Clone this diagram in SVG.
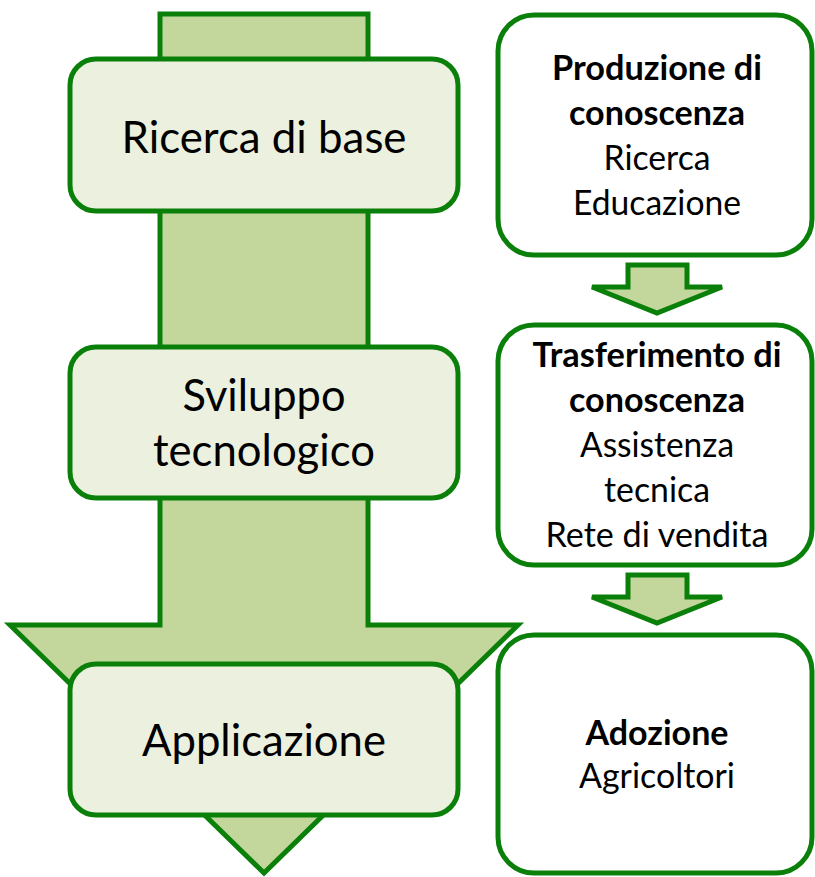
<svg xmlns="http://www.w3.org/2000/svg" width="815" height="877" viewBox="0 0 815 877">
<style>
.arrow{fill:#c3d69b;stroke:#0a800a;stroke-width:5;stroke-linejoin:miter}
.lbox{fill:#ebf1de;stroke:#0a800a;stroke-width:5}
.rbox{fill:#ffffff;stroke:#0a800a;stroke-width:5}
.lt{font-family:Lato,"Liberation Sans",sans-serif;font-size:44px;fill:#000;text-anchor:middle}
.rt{font-family:Lato,"Liberation Sans",sans-serif;font-size:35px;fill:#000;text-anchor:middle}
.b{font-weight:bold}
</style>
<rect width="815" height="877" fill="#ffffff"/>
<g id="connectors">
<path id="main-arrow" class="arrow" d="M160,14 H368 V625 H518 L264,873 L10,625 H160 Z"/>
<path id="arrow-1" class="arrow" d="M628,265 H687 V287 H722 L657,313 L592,287 H628 Z"/>
<path id="arrow-2" class="arrow" d="M628,575 H687 V597 H722 L657,623 L592,597 H628 Z"/>
</g>
<g id="ricerca-di-base">
<rect class="lbox" x="70" y="59" width="388" height="152" rx="26"/>
<text class="lt" x="264" y="153" textLength="285" lengthAdjust="spacingAndGlyphs">Ricerca di base</text>
</g>
<g id="sviluppo-tecnologico">
<rect class="lbox" x="70" y="347" width="388" height="151" rx="26"/>
<text class="lt" x="264" y="411" textLength="163" lengthAdjust="spacingAndGlyphs">Sviluppo</text>
<text class="lt" x="264" y="466" textLength="222" lengthAdjust="spacingAndGlyphs">tecnologico</text>
</g>
<g id="applicazione">
<rect class="lbox" x="70" y="664" width="388" height="151" rx="26"/>
<text class="lt" x="264" y="756" textLength="244" lengthAdjust="spacingAndGlyphs">Applicazione</text>
</g>
<g id="produzione">
<rect class="rbox" x="498" y="15" width="314" height="240" rx="36"/>
<text class="rt b" x="657" y="80" textLength="210" lengthAdjust="spacingAndGlyphs">Produzione di</text>
<text class="rt b" x="657" y="125" textLength="176" lengthAdjust="spacingAndGlyphs">conoscenza</text>
<text class="rt" x="657" y="170" textLength="107" lengthAdjust="spacingAndGlyphs">Ricerca</text>
<text class="rt" x="657" y="215" textLength="168" lengthAdjust="spacingAndGlyphs">Educazione</text>
</g>
<g id="trasferimento">
<rect class="rbox" x="498" y="325" width="314" height="240" rx="36"/>
<text class="rt b" x="657" y="367" textLength="249" lengthAdjust="spacingAndGlyphs">Trasferimento di</text>
<text class="rt b" x="657" y="412" textLength="176" lengthAdjust="spacingAndGlyphs">conoscenza</text>
<text class="rt" x="657" y="457" textLength="154" lengthAdjust="spacingAndGlyphs">Assistenza</text>
<text class="rt" x="657" y="502" textLength="106" lengthAdjust="spacingAndGlyphs">tecnica</text>
<text class="rt" x="657" y="547" textLength="223" lengthAdjust="spacingAndGlyphs">Rete di vendita</text>
</g>
<g id="adozione">
<rect class="rbox" x="498" y="635" width="314" height="238" rx="36"/>
<text class="rt b" x="657" y="745" textLength="143" lengthAdjust="spacingAndGlyphs">Adozione</text>
<text class="rt" x="657" y="788" textLength="156" lengthAdjust="spacingAndGlyphs">Agricoltori</text>
</g>
</svg>
